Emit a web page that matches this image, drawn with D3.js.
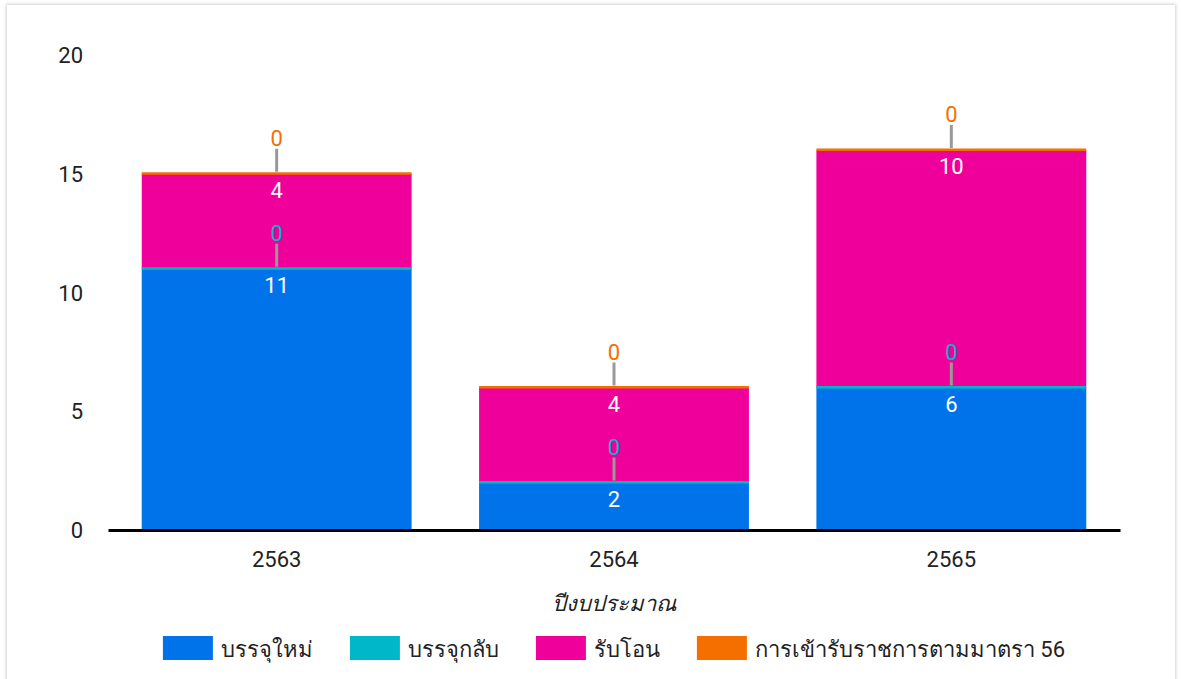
<!DOCTYPE html>
<html>
<head>
<meta charset="utf-8">
<script src="https://cdn.jsdelivr.net/npm/d3@7"></script>
<style>
  html, body { margin: 0; padding: 0; background: #fff; overflow: hidden; }
  #card {
    position: absolute; left: 7px; top: 5px; width: 1168px; height: 700px;
    background: #fff; box-shadow: 0 0 3px 1px rgba(0,0,0,0.18);
  }
  #chart { position: absolute; left: 0; top: 0; }
  text { font-family: Roboto, "Noto Sans", sans-serif; }
</style>
</head>
<body>
<div id="card"></div>
<div id="chart"></div>
<script>
// ข้อมูลของกราฟ
const categories = ["2563", "2564", "2565"];
const seriesNames = ["บรรจุใหม่", "บรรจุกลับ", "รับโอน", "การเข้ารับราชการตามมาตรา 56"];
const newHires = [11, 2, 6];
const reinstated = [0, 0, 0];
const transfers = [4, 4, 10];
const section56 = [0, 0, 0];
const yTicks = [0, 5, 10, 15, 20];
const axisTitle = "ปีงบประมาณ";

const colors = ["#0073ea", "#00b6c9", "#f0009a", "#f56f00"];

const width = 1181, height = 679;
const plot = { left: 108, right: 1120, top: 55, bottom: 530 };
const fontSize = 22;

const svg = d3.select("#chart").append("svg")
  .attr("width", width)
  .attr("height", height);

const x = d3.scaleBand()
  .domain(categories)
  .range([plot.left, plot.right])
  .paddingInner(0.2)
  .paddingOuter(0.1);

const y = d3.scaleLinear()
  .domain([0, 20])
  .range([plot.bottom, plot.top]);

// ตารางสำหรับ stack
const values = [newHires, reinstated, transfers, section56];
const table = categories.map((c, i) => {
  const row = { cat: c };
  seriesNames.forEach((s, k) => { row[s] = values[k][i]; });
  return row;
});
const stacked = d3.stack().keys(seriesNames)(table);

// แกน y (ตัวเลข)
const yAxis = svg.append("g")
  .attr("transform", `translate(${plot.left - 25},0)`)
  .call(d3.axisLeft(y).tickValues(yTicks).tickSize(0).tickPadding(0));
yAxis.select(".domain").remove();
yAxis.selectAll("text")
  .attr("font-size", fontSize)
  .attr("fill", "#222")
  .attr("dy", "0.35em");

// แท่งที่มีค่า
stacked.forEach((layer, k) => {
  svg.append("g")
    .selectAll("rect")
    .data(layer.filter(d => d[1] - d[0] > 0))
    .enter()
    .append("rect")
    .attr("x", d => x(d.data.cat))
    .attr("width", x.bandwidth())
    .attr("y", d => y(d[1]))
    .attr("height", d => y(d[0]) - y(d[1]))
    .attr("fill", colors[k]);
});

// แท่งค่าศูนย์ (เส้นบาง)
stacked.forEach((layer, k) => {
  svg.append("g")
    .selectAll("rect")
    .data(layer.filter(d => d[1] - d[0] === 0))
    .enter()
    .append("rect")
    .attr("x", d => x(d.data.cat))
    .attr("width", x.bandwidth())
    .attr("y", d => y(d[1]) - 1.5)
    .attr("height", 2.5)
    .attr("fill", colors[k]);
});

// ป้ายตัวเลข
stacked.forEach((layer, k) => {
  const g = svg.append("g");
  layer.forEach(d => {
    const v = d[1] - d[0];
    const cx = x(d.data.cat) + x.bandwidth() / 2;
    if (v > 0) {
      g.append("text")
        .attr("x", cx)
        .attr("y", y(d[1]) + 24)
        .attr("text-anchor", "middle")
        .attr("font-size", fontSize)
        .attr("fill", "#fff")
        .text(v);
    } else {
      const by = y(d[1]);
      g.append("line")
        .attr("x1", cx).attr("x2", cx)
        .attr("y1", by - 2).attr("y2", by - 25)
        .attr("stroke", "#999")
        .attr("stroke-width", 3);
      g.append("text")
        .attr("x", cx)
        .attr("y", by - 28)
        .attr("text-anchor", "middle")
        .attr("font-size", fontSize)
        .attr("fill", colors[k])
        .text(v);
    }
  });
});

// แกน x
const xAxis = svg.append("g")
  .attr("transform", `translate(0,${plot.bottom})`)
  .call(d3.axisBottom(x).tickSize(0).tickPadding(37));
xAxis.select(".domain")
  .attr("stroke", "#000")
  .attr("stroke-width", 3);
xAxis.selectAll("text")
  .attr("font-size", fontSize)
  .attr("fill", "#222")
  .attr("dy", "0");

// ชื่อแกน x
svg.append("text")
  .attr("x", (plot.left + plot.right) / 2)
  .attr("y", 611)
  .attr("text-anchor", "middle")
  .attr("font-size", fontSize)
  .attr("font-style", "italic")
  .attr("fill", "#222")
  .text(axisTitle);

// คำอธิบายสัญลักษณ์
const legend = svg.append("g");
const items = legend.selectAll("g")
  .data(seriesNames)
  .enter()
  .append("g");
items.append("rect")
  .attr("width", 50)
  .attr("height", 24)
  .attr("y", 636)
  .attr("fill", (d, i) => colors[i]);
items.append("text")
  .attr("x", 58)
  .attr("y", 657)
  .attr("font-size", fontSize)
  .attr("fill", "#222")
  .text(d => d);

let offset = 0;
const itemX = [];
items.each(function (d, i) {
  const w = 58 + this.querySelector("text").getComputedTextLength();
  itemX.push(offset);
  offset += w + 37;
});
const totalW = offset - 37;
const startX = (plot.left + plot.right) / 2 - totalW / 2;
items.attr("transform", (d, i) => `translate(${startX + itemX[i]},0)`);
</script>
</body>
</html>
